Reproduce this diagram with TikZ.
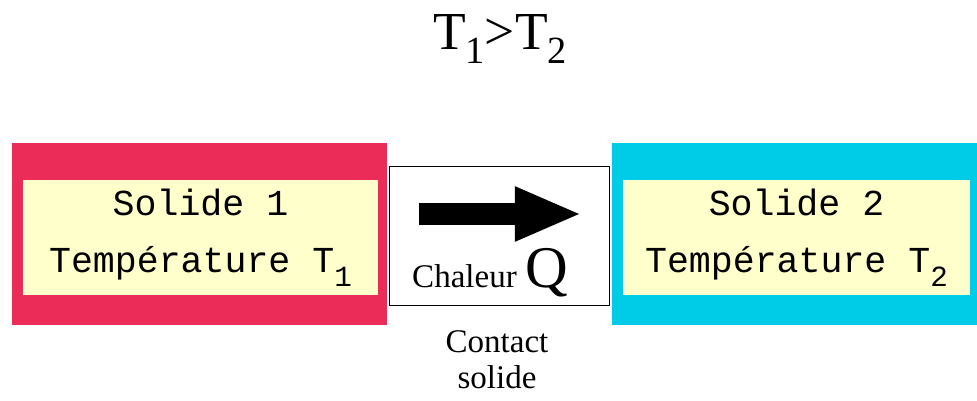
\documentclass[tikz,border=0pt]{standalone}
\usepackage{fontspec}
\setmainfont{Liberation Serif}
\setmonofont{Liberation Mono}
\usetikzlibrary{arrows.meta, positioning}
\definecolor{solidred}{RGB}{236,44,88}
\definecolor{solidcyan}{RGB}{0,204,232}
\definecolor{paleyellow}{RGB}{255,255,204}
\newcommand{\lowsub}[1]{\raisebox{-0.55ex}{\scalebox{0.72}{#1}}}
\newcommand{\monosub}[1]{\raisebox{-0.7ex}{\scalebox{0.8}{#1}}}

\begin{document}
\begin{tikzpicture}[x=0.025cm, y=-0.025cm,
  solidbox/.style={inner sep=0pt, minimum height=4.55cm},
  innerbox/.style={inner sep=0pt, fill=paleyellow, minimum height=2.875cm},
  monotext/.style={font=\fontsize{26}{41}\selectfont\ttfamily, align=center}]
\useasboundingbox (0,0) rectangle (977,400);

% Contact zone between the two solids
\node[draw=black, thin, inner sep=0pt, minimum width=5.5cm, minimum height=3.475cm] (contactzone) at (499,235.5) {};

% Solid 1 (hot)
\node[solidbox, fill=solidred, minimum width=9.375cm] (solidone) at (199.5,234) {};
\node[innerbox, minimum width=8.875cm] (innerone) at (200.5,237.5) {};
\node[monotext] (textone) at (innerone) {Solide 1\\Température T\monosub{1}};

% Solid 2 (cold)
\node[solidbox, fill=solidcyan, minimum width=9.125cm] (solidtwo) at (794.5,234) {};
\node[innerbox, minimum width=8.675cm] (innertwo) at (796.5,237.5) {};
\node[monotext] (texttwo) at (innertwo) {Solide 2\\Température T\monosub{2}};

% Heat flow
\coordinate (qstart) at (419,214);
\coordinate (qend) at (582,214);
\draw[line width=0.55cm, -{Triangle[length=1.68cm, width=1.25cm]}] (qstart) -- (qend);
\node[font=\fontsize{23.5}{28}\selectfont, anchor=base] (heat) at (490,287) {Chaleur {\fontsize{42}{42}\selectfont Q}};

% Labels
\node[align=center, font=\fontsize{23.5}{25.6}\selectfont, anchor=north] (contact) at (497,326) {Contact\\solide};
\node[font=\fontsize{38}{40}\selectfont, anchor=base] (order) at (500,50) {T\lowsub{1}>T\lowsub{2}};
\end{tikzpicture}
\end{document}
